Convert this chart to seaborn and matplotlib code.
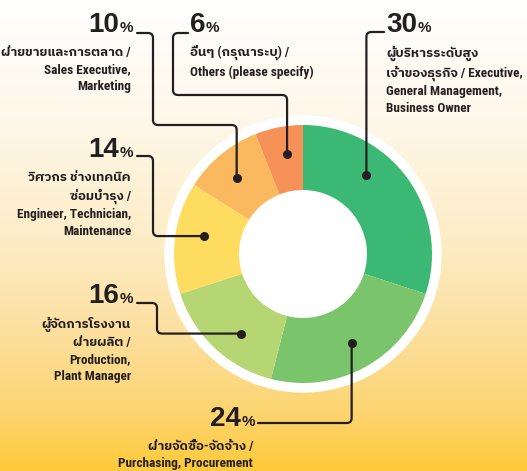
import matplotlib
matplotlib.use('Agg')
import matplotlib.pyplot as plt
import numpy as np
import seaborn as sns
from matplotlib.path import Path
from matplotlib.patches import PathPatch, Circle
from matplotlib.colors import LinearSegmentedColormap

# data (clockwise from 12 o'clock)
shares = [30, 24, 16, 14, 10, 6]
labels = [
    'ผู้บริหารระดับสูง\nเจ้าของธุรกิจ / Executive,\nGeneral Management,\nBusiness Owner',
    'ฝ่ายจัดซื้อ-จัดจ้าง /\nPurchasing, Procurement',
    'ผู้จัดการโรงงาน\nฝ่ายผลิต /\nProduction,\nPlant Manager',
    'วิศวกร ช่างเทคนิค\nซ่อมบำรุง /\nEngineer, Technician,\nMaintenance',
    'ฝ่ายขายและการตลาด /\nSales Executive,\nMarketing',
    'อื่นๆ (กรุณาระบุ) /\nOthers (please specify)',
]
slice_colors = ['#3bb873', '#7ac56b', '#b6d673', '#fddc60', '#fbb95f', '#f69257']

W, H = 527, 471
CX, CY = 303, H - 254
R_OUT, R_IN, R_RING = 129, 64, 138

sns.set_style('white')
label_font = ['Roboto Condensed', 'IBM Plex Sans Thai', 'DejaVu Sans']
num_font = ['Liberation Sans', 'DejaVu Sans']
ink = '#231f20'

fig = plt.figure(figsize=(W / 100, H / 100), dpi=100)
ax = fig.add_axes([0, 0, 1, 1])

# background gradient, white at top to yellow at bottom
bg = LinearSegmentedColormap.from_list('bg', [
    (0.0, '#ffffff'), (0.25, '#fef8ea'), (0.5, '#fdedc8'),
    (0.7, '#fce0a0'), (0.88, '#fdd470'), (1.0, '#ffca38')])
grad = np.linspace(0, 1, 256).reshape(-1, 1)
ax.imshow(grad, cmap=bg, extent=(0, W, 0, H), aspect='auto', zorder=0)

ax.add_patch(Circle((CX, CY), R_RING, color='white', zorder=1))
wedges, _ = ax.pie(shares, colors=sns.color_palette(slice_colors), startangle=90,
                   counterclock=False, radius=R_OUT, center=(CX, CY),
                   wedgeprops=dict(width=R_OUT - R_IN, linewidth=0))
for w in wedges:
    w.set_zorder(2)


def rounded(pts, r=5):
    # polyline with small rounded corners
    verts, codes = [pts[0]], [Path.MOVETO]
    for i in range(1, len(pts) - 1):
        p0, p1, p2 = map(np.array, (pts[i - 1], pts[i], pts[i + 1]))
        d1 = (p1 - p0) / np.linalg.norm(p1 - p0)
        d2 = (p2 - p1) / np.linalg.norm(p2 - p1)
        verts += [tuple(p1 - d1 * r), tuple(p1), tuple(p1 + d2 * r)]
        codes += [Path.LINETO, Path.CURVE3, Path.CURVE3]
    verts.append(pts[-1])
    codes.append(Path.LINETO)
    return Path(verts, codes)


# where the dot sits inside each wedge (fraction from its leading edge)
dot_frac = [0.36, 0.5, 0.41, 0.56, 0.46, 0.58]
dot_r = 101
dots = []
for w, f in zip(wedges, dot_frac):
    a = np.radians(w.theta2 - f * (w.theta2 - w.theta1))
    dots.append((CX + dot_r * np.cos(a), CY + dot_r * np.sin(a)))


def y(v):
    return H - v


# leader routes (pixel y measured from top)
routes = [
    lambda d: [d, (d[0], y(32)), (384, y(32))],
    lambda d: [d, (d[0], y(423)), (258, y(423))],
    lambda d: [d, (157, d[1]), (157, y(303)), (137, y(303))],
    lambda d: [d, (153, d[1]), (153, y(156)), (137, y(156))],
    lambda d: [d, (d[0], y(125)), (153, y(125)), (153, y(33)), (137, y(33))],
    lambda d: [d, (d[0], y(95)), (173, y(95)), (173, y(33)), (188, y(33))],
]
for d, route in zip(dots, routes):
    ax.add_patch(PathPatch(rounded(route(d)), fill=False, lw=1.6, ec=ink,
                           capstyle='round', zorder=3))
    ax.plot(*d, 'o', ms=5.5, color=ink, zorder=4)

# text anchors: (x, baseline y of number, side)
anchors = [(386, 32, 'left'), (255, 426, 'right'), (133, 303, 'right'),
           (133, 157, 'right'), (133, 32, 'right'), (190, 32, 'left')]
pct_w = 14
for s, lab, (tx, ty, side) in zip(shares, labels, anchors):
    if side == 'left':
        ax.text(tx, y(ty), str(s), ha='left', va='baseline', fontsize=20,
                fontweight='bold', family=num_font, color=ink, zorder=5)
        nx = tx + len(str(s)) * 15.6
        ax.text(nx, y(ty), '%', ha='left', va='baseline', fontsize=11,
                fontweight='bold', family=num_font, color=ink, zorder=5)
    else:
        ax.text(tx, y(ty), '%', ha='right', va='baseline', fontsize=11,
                fontweight='bold', family=num_font, color=ink, zorder=5)
        ax.text(tx - pct_w, y(ty), str(s), ha='right', va='baseline', fontsize=20,
                fontweight='bold', family=num_font, color=ink, zorder=5)
    lx = tx if side == 'left' else tx - 2
    ax.text(lx, y(ty + 14), lab, ha=side, va='top', fontsize=9.5,
            fontweight='bold', family=label_font, color=ink, linespacing=1.4,
            zorder=5)

ax.set_xlim(0, W)
ax.set_ylim(0, H)
ax.set_aspect('auto')
ax.axis('off')
fig.savefig('out.png', dpi=100)
